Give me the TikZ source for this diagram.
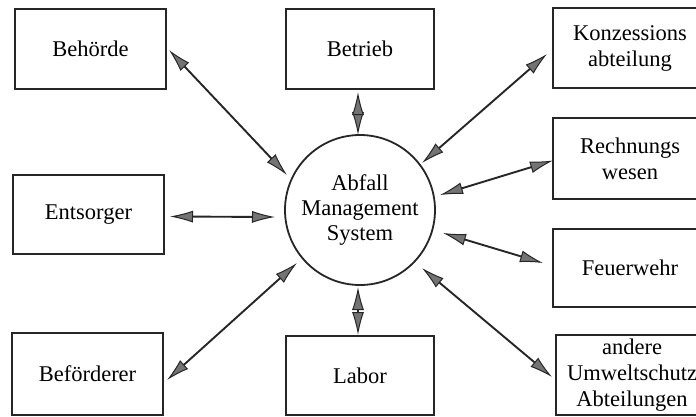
\documentclass[tikz,border=0pt]{standalone}
\usepackage{fontspec}
\setmainfont{Liberation Serif}
\usetikzlibrary{arrows.meta,calc}
\begin{document}
\begin{tikzpicture}[x=1pt,y=-1pt,
  box/.style={draw=black!85,line width=1.8pt,rectangle,inner sep=0pt,outer sep=0pt,
    align=center,font=\fontsize{22.5}{26}\selectfont},
  hub/.style={draw=black!85,line width=1.8pt,circle,minimum size=150pt,inner sep=0pt,
    outer sep=0pt,align=center,font=\fontsize{22.5}{25}\selectfont},
  tip/.tip={Latex[length=23pt,width=12pt,fill=black!55,line width=1pt]},
  link/.style={line width=1.9pt,draw=black!85,tip-tip}]
\clip (0,0) rectangle (696,416);
\fill[white] (0,0) rectangle (696,416);

% central system
\node[hub] (circ) at (360,210) {Abfall\\Management\\System};

% surrounding partners
\node[box,minimum width=151pt,minimum height=80pt] (beh) at (90.5,49) {Behörde};
\node[box,minimum width=148pt,minimum height=80pt] (bet) at (360,49) {Betrieb};
\node[box,minimum width=154pt,minimum height=80pt] (konz) at (630,48) {Konzessions\\abteilung};
\node[box,minimum width=154pt,minimum height=81pt] (rech) at (630,158.5) {Rechnungs\\wesen};
\node[box,minimum width=151pt,minimum height=79pt] (ents) at (88.5,214.5) {Entsorger};
\node[box,minimum width=154pt,minimum height=78pt] (feu) at (630,268) {Feuerwehr};
\node[box,minimum width=151pt,minimum height=82pt] (bef) at (87.5,374) {Beförderer};
\node[box,minimum width=148pt,minimum height=79pt] (lab) at (360,375.5) {Labor};
\node[box,minimum width=152pt,minimum height=80pt] (and) at (632,375) {andere\\Umweltschutz\\Abteilungen};

% two-way links
\draw[link] ($(circ)+(-73,-35)$) -- ($(beh.east)+(3,1)$);
\draw[link] ($(circ)+(-2,-75)$) -- ($(bet.south)+(-2,3)$);
\draw[link] ($(circ)+(62,-47)$) -- ($(konz.west)+(-6,6)$);
\draw[link] ($(circ)+(80,-15)$) -- ($(rech.west)+(0,2)$);
\draw[link] ($(circ)+(-85,7)$) -- ($(ents.east)+(6,2)$);
\draw[link] ($(circ)+(83,23)$) -- ($(feu.west)+(-10,-5)$);
\draw[link] ($(circ)+(62,58)$) -- ($(and.west)+(-4,2)$);
\draw[link] ($(circ)+(-63,53)$) -- ($(bef.east)+(4,6)$);
\draw[link] ($(circ)+(-2,77)$) -- ($(lab.north)+(-2,-1)$);
\end{tikzpicture}
\end{document}
